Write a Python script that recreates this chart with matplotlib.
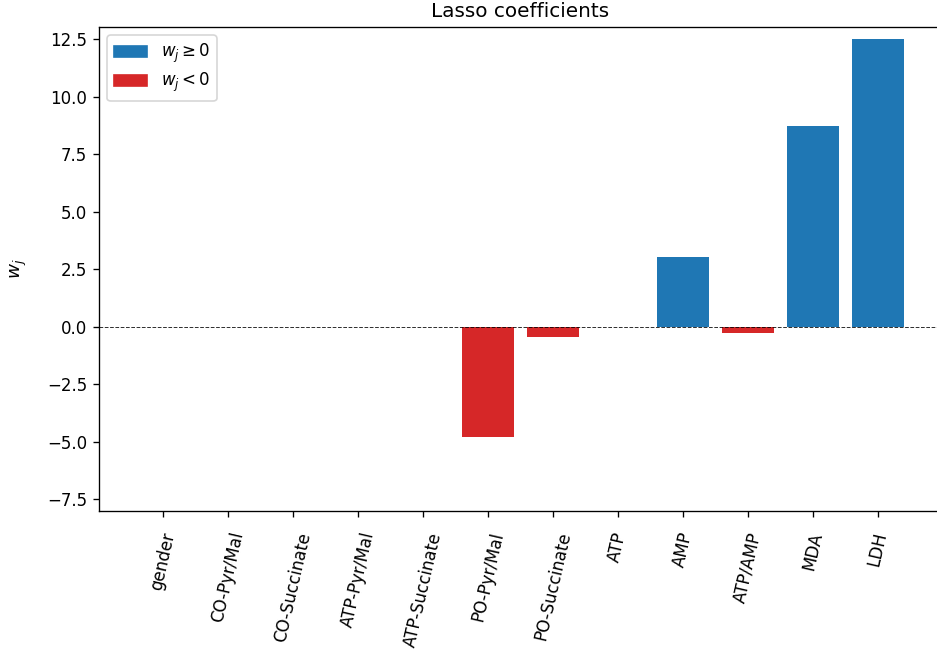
import matplotlib
matplotlib.use("Agg")
import matplotlib.pyplot as plt
from matplotlib.patches import Patch
import numpy as np

features = ["gender", "CO-Pyr/Mal", "CO-Succinate", "ATP-Pyr/Mal", "ATP-Succinate",
            "PO-Pyr/Mal", "PO-Succinate", "ATP", "AMP", "ATP/AMP", "MDA", "LDH"]
coefs = [0.0, 0.0, 0.0, 0.0, 0.0, -4.78, -0.43, 0.0, 3.04, -0.27, 8.73, 12.48]

pos_color = "tab:blue"
neg_color = "tab:red"

dpi = 120
fig = plt.figure(figsize=(937 / dpi, 659 / dpi), dpi=dpi)
ax = fig.add_axes([99 / 937, (659 - 511) / 659, (942 - 99) / 937, (511 - 27) / 659])

x = np.arange(len(features))
colors = [pos_color if c >= 0 else neg_color for c in coefs]
ax.bar(x, coefs, width=0.8, color=colors, linewidth=0)
ax.axhline(0, color="k", linestyle="--", linewidth=0.6, alpha=0.8)

ax.set_xticks(x)
ax.set_xticklabels(features, rotation=77, ha="center")
ax.tick_params(axis="x", pad=8)
ax.set_xlim(-0.99, 11.99)
ax.set_ylim(-8.0, 13.02)
ax.set_yticks([-7.5, -5.0, -2.5, 0.0, 2.5, 5.0, 7.5, 10.0, 12.5])
ax.set_ylabel("$w_j$", fontsize=11, labelpad=11)
ax.set_title("Lasso coefficients")

handles = [Patch(color=pos_color, label=r"$w_j \geq 0$"),
           Patch(color=neg_color, label=r"$w_j < 0$")]
ax.legend(handles=handles, loc="upper left", labelspacing=0.35)

fig.savefig("out.png", dpi=dpi)
